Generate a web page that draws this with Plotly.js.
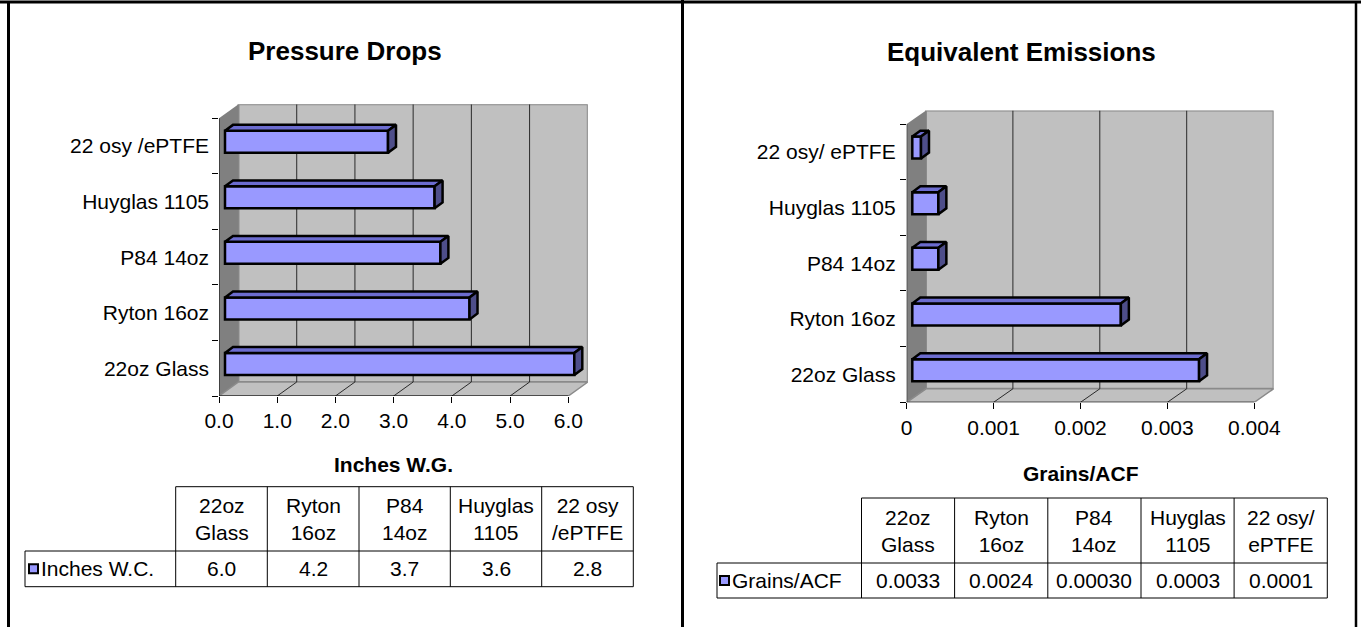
<!DOCTYPE html>
<html><head><meta charset="utf-8">
<script src="https://cdn.plot.ly/plotly-3.0.1.min.js"></script>
<style>html,body{margin:0;padding:0;background:#fff}#chart{width:1361px;height:627px}</style>
</head><body><div id="chart"></div>
<script>
const W = 1361, H = 627;
const FONT = 'Liberation Sans, Arial, sans-serif';
const FS = 21;

// ---------- Data: Pressure Drops ----------
const pdTitle = 'Pressure Drops';
const pdAxisTitle = 'Inches W.G.';
const pdSeries = 'Inches W.C.';
const pdCategories = ['22oz Glass', 'Ryton 16oz', 'P84 14oz', 'Huyglas 1105', '22 osy /ePTFE'];
const pdValues = [6.0, 4.2, 3.7, 3.6, 2.8];
const pdTickVals = [0, 1, 2, 3, 4, 5, 6];
const pdTickText = ['0.0', '1.0', '2.0', '3.0', '4.0', '5.0', '6.0'];
const pdTableText = ['6.0', '4.2', '3.7', '3.6', '2.8'];

// ---------- Data: Equivalent Emissions ----------
const emTitle = 'Equivalent Emissions';
const emAxisTitle = 'Grains/ACF';
const emSeries = 'Grains/ACF';
const emCategories = ['22oz Glass', 'Ryton 16oz', 'P84 14oz', 'Huyglas 1105', '22 osy/ ePTFE'];
const emValues = [0.0033, 0.0024, 0.0003, 0.0003, 0.0001];
const emTickVals = [0, 0.001, 0.002, 0.003, 0.004];
const emTickText = ['0', '0.001', '0.002', '0.003', '0.004'];
const emTableText = ['0.0033', '0.0024', '0.00030', '0.0003', '0.0001'];

// ---------- Layout geometry (pixels) ----------
const G1 = {xa: 'x', ya: 'y', x0: 219, xMaxPx: 568.3, yTop: 118.3, yBot: 396,
  depthX: 19.5, depthY: 14, barOffX: 6, barShiftY: 4.3, barH: 22, barDX: 8, barDY: 5.9,
  titleX: 344.5, titleY: 51, axisTitleY: 464, labelGap: 9,
  table: {x0: 25, cols: [175.7, 267.3, 359, 450.3, 541.7, 633.3], yTop: 486.7, yMid: 551, yBot: 586.7, sqX: 29}};
const G2 = {xa: 'x2', ya: 'y2', x0: 906.7, xMaxPx: 1254.3, yTop: 124, yBot: 402.3,
  depthX: 19.3, depthY: 13.5, barOffX: 5.6, barShiftY: 4.3, barH: 22, barDX: 8, barDY: 5.9,
  titleX: 1021, titleY: 52, axisTitleY: 473, labelGap: 10,
  table: {x0: 717, cols: [861.5, 954.6, 1047.8, 1141, 1234.1, 1327.3], yTop: 498, yMid: 563, yBot: 598, sqX: 720}};

const FRONT = '#9999FF', TOP = '#6C6CCF', SIDE = '#4E4E8A';

function splitHeader(s) {
  const k = s.lastIndexOf(' ');
  return k > 0 ? s.slice(0, k) + '<br>' + s.slice(k + 1) : s;
}

function buildPanel(G, cats, vals, tickVals, tickText, tableText, title, axisTitle, series) {
  const n = cats.length;
  const xMax = tickVals[tickVals.length - 1];
  const ppu = (G.xMaxPx - G.x0) / xMax;
  const band = (G.yBot - G.yTop) / n;
  const dxu = G.depthX / ppu, dyu = G.depthY / band;
  const xRangeMax = (G.xMaxPx + G.depthX - G.x0) / ppu;
  const yRangeMax = -0.5 + (G.yBot - G.yTop + G.depthY) / band;
  const idx = cats.map((c, i) => i);
  const bounds = [];
  for (let i = 0; i <= n; i++) bounds.push(i - 0.5);

  const xaxis = {domain: [G.x0 / W, (G.xMaxPx + G.depthX) / W], range: [0, xRangeMax], anchor: G.ya,
    tickmode: 'array', tickvals: tickVals, ticktext: tickText, ticks: 'outside', ticklen: 6, tickwidth: 1, tickcolor: '#000',
    showgrid: false, zeroline: false, showline: false, fixedrange: true,
    tickfont: {family: FONT, size: FS, color: '#000'}};
  const yaxis = {domain: [1 - G.yBot / H, 1 - (G.yTop - G.depthY) / H], range: [-0.5, yRangeMax], anchor: G.xa,
    tickmode: 'array', tickvals: idx, ticktext: cats, ticks: '', ticklabelstandoff: G.labelGap,
    minor: {tickmode: 'array', tickvals: bounds, ticks: 'outside', ticklen: 6, tickwidth: 1, tickcolor: '#000', showgrid: false},
    showgrid: false, zeroline: false, showline: false, fixedrange: true,
    tickfont: {family: FONT, size: FS, color: '#000'}};

  const ref = {xref: G.xa, yref: G.ya};
  const shapes = [];
  // back wall
  shapes.push(Object.assign({type: 'rect', layer: 'below', x0: dxu, x1: xMax + dxu, y0: -0.5 + dyu, y1: n - 0.5 + dyu,
    fillcolor: '#C0C0C0', line: {color: '#8A8A8A', width: 2}}, ref));
  // side wall
  shapes.push(Object.assign({type: 'path', layer: 'below',
    path: `M0,-0.5 L0,${n - 0.5} L${dxu},${n - 0.5 + dyu} L${dxu},${-0.5 + dyu} Z`,
    fillcolor: '#808080', line: {width: 0}}, ref));
  // floor
  shapes.push(Object.assign({type: 'path', layer: 'below',
    path: `M0,-0.5 L${xMax},-0.5 L${xMax + dxu},${-0.5 + dyu} L${dxu},${-0.5 + dyu} Z`,
    fillcolor: '#C0C0C0', line: {color: '#8A8A8A', width: 1.5}}, ref));
  // gridlines on back wall and floor
  tickVals.slice(1, -1).forEach(v => {
    shapes.push(Object.assign({type: 'line', layer: 'below', x0: v + dxu, x1: v + dxu, y0: -0.5 + dyu, y1: n - 0.5 + dyu,
      line: {color: '#2a2a2a', width: 1}}, ref));
    shapes.push(Object.assign({type: 'line', layer: 'below', x0: v, x1: v + dxu, y0: -0.5, y1: -0.5 + dyu,
      line: {color: '#2a2a2a', width: 1}}, ref));
  });
  // axis lines
  shapes.push(Object.assign({type: 'line', layer: 'above', x0: 0, x1: 0, y0: -0.5, y1: n - 0.5, line: {color: '#000', width: 1}}, ref));
  shapes.push(Object.assign({type: 'line', layer: 'above', x0: 0, x1: xMax, y0: -0.5, y1: -0.5, line: {color: '#000', width: 1}}, ref));

  // bars
  const base = G.barOffX / ppu;
  const wU = G.barH / band, shiftU = G.barShiftY / band;
  const ddx = G.barDX / ppu, ddy = G.barDY / band;
  const traces = [];
  traces.push({type: 'bar', orientation: 'h', y: idx, x: vals, base: base, width: wU, offset: shiftU - wU / 2,
    xaxis: G.xa, yaxis: G.ya, marker: {color: FRONT, line: {color: '#000', width: 2.5}}, hoverinfo: 'skip', name: series});
  const tx = [], ty = [], sx = [], sy = [];
  vals.forEach((v, i) => {
    const t = i + shiftU + wU / 2, b = i + shiftU - wU / 2;
    tx.push(base, base + v, base + v + ddx, base + ddx, base, null);
    ty.push(t, t, t + ddy, t + ddy, t, null);
    sx.push(base + v, base + v + ddx, base + v + ddx, base + v, base + v, null);
    sy.push(b, b + ddy, t + ddy, t, b, null);
  });
  traces.push({type: 'scatter', mode: 'lines', x: tx, y: ty, fill: 'toself', fillcolor: TOP,
    line: {color: '#000', width: 2.5}, xaxis: G.xa, yaxis: G.ya, hoverinfo: 'skip'});
  traces.push({type: 'scatter', mode: 'lines', x: sx, y: sy, fill: 'toself', fillcolor: SIDE,
    line: {color: '#000', width: 2.5}, xaxis: G.xa, yaxis: G.ya, hoverinfo: 'skip'});

  // annotations
  const ann = [];
  ann.push({xref: 'paper', yref: 'paper', x: G.titleX / W, y: 1 - G.titleY / H, xanchor: 'center', yanchor: 'middle',
    showarrow: false, text: '<b>' + title + '</b>', font: {family: FONT, size: 26, color: '#000'}});
  ann.push({xref: G.xa, yref: 'paper', x: xMax / 2, y: 1 - G.axisTitleY / H, xanchor: 'center', yanchor: 'middle',
    showarrow: false, text: '<b>' + axisTitle + '</b>', font: {family: FONT, size: FS, color: '#000'}});

  // data table
  const T = G.table, c = T.cols;
  const L = (x0, y0, x1, y1) => ({type: 'line', xref: 'paper', yref: 'paper', x0: x0 / W, x1: x1 / W,
    y0: 1 - y0 / H, y1: 1 - y1 / H, line: {color: '#000', width: 1}});
  shapes.push(L(c[0], T.yTop, c[c.length - 1], T.yTop));
  shapes.push(L(T.x0, T.yMid, c[c.length - 1], T.yMid));
  shapes.push(L(T.x0, T.yBot, c[c.length - 1], T.yBot));
  shapes.push(L(T.x0, T.yMid, T.x0, T.yBot));
  c.forEach(x => shapes.push(L(x, T.yTop, x, T.yBot)));
  const yc = (T.yMid + T.yBot) / 2;
  shapes.push({type: 'rect', xref: 'paper', yref: 'paper', x0: T.sqX / W, x1: (T.sqX + 9) / W,
    y0: 1 - (yc - 4.5) / H, y1: 1 - (yc + 4.5) / H, fillcolor: FRONT, line: {color: '#000', width: 2}});
  ann.push({xref: 'paper', yref: 'paper', x: (T.sqX + 10) / W, y: 1 - yc / H, xanchor: 'left', yanchor: 'middle',
    showarrow: false, text: series, font: {family: FONT, size: FS, color: '#000'}});
  cats.forEach((cat, i) => {
    const xc = (c[i] + c[i + 1]) / 2 / W;
    ann.push({xref: 'paper', yref: 'paper', x: xc, y: 1 - (T.yTop + T.yMid) / 2 / H, xanchor: 'center', yanchor: 'middle',
      showarrow: false, text: splitHeader(cat), font: {family: FONT, size: FS, color: '#000'}});
    ann.push({xref: 'paper', yref: 'paper', x: xc, y: 1 - yc / H, xanchor: 'center', yanchor: 'middle',
      showarrow: false, text: tableText[i], font: {family: FONT, size: FS, color: '#000'}});
  });

  return {traces, shapes, ann, xaxis, yaxis};
}

const p1 = buildPanel(G1, pdCategories, pdValues, pdTickVals, pdTickText, pdTableText, pdTitle, pdAxisTitle, pdSeries);
const p2 = buildPanel(G2, emCategories, emValues, emTickVals, emTickText, emTableText, emTitle, emAxisTitle, emSeries);

// outer frame lines
const frame = [
  {x0: 0, y0: 2, x1: W, y1: 2, w: 3},
  {x0: 8.5, y0: 2, x1: 8.5, y1: H, w: 3},
  {x0: 682.5, y0: 0, x1: 682.5, y1: H, w: 3},
  {x0: 1356, y0: 2, x1: 1356, y1: H, w: 2.5}
].map(f => ({type: 'line', xref: 'paper', yref: 'paper', x0: f.x0 / W, x1: f.x1 / W, y0: 1 - f.y0 / H, y1: 1 - f.y1 / H,
  line: {color: '#000', width: f.w}}));

const layout = {
  width: W, height: H, margin: {l: 0, r: 0, t: 0, b: 0},
  paper_bgcolor: '#fff', plot_bgcolor: 'rgba(0,0,0,0)', showlegend: false,
  font: {family: FONT, color: '#000'},
  xaxis: p1.xaxis, yaxis: p1.yaxis, xaxis2: p2.xaxis, yaxis2: p2.yaxis,
  shapes: p1.shapes.concat(p2.shapes, frame),
  annotations: p1.ann.concat(p2.ann)
};

Plotly.newPlot('chart', p1.traces.concat(p2.traces), layout, {displayModeBar: false, staticPlot: true});
</script></body></html>
